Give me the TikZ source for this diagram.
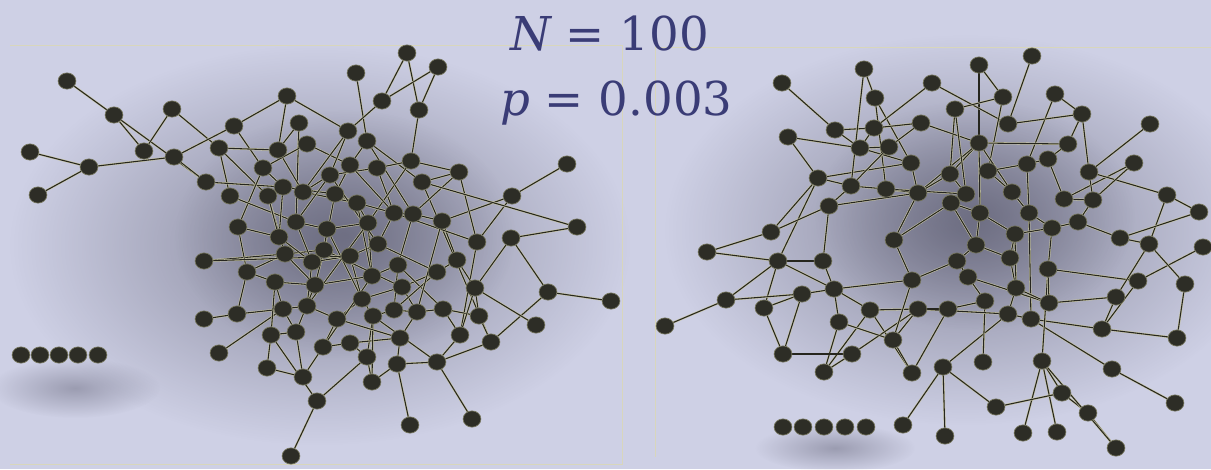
\documentclass[tikz,border=0pt]{standalone}
\usepackage{fontspec}
\newfontfamily\titlefont{DejaVu Serif}
\usetikzlibrary{shapes.geometric,fadings}
\definecolor{bgcol}{RGB}{206,208,229}
\definecolor{shcol}{RGB}{95,95,115}
\definecolor{nodecol}{RGB}{45,45,38}
\definecolor{nodeline}{RGB}{120,120,95}
\definecolor{edgedark}{RGB}{38,38,30}
\definecolor{edgelight}{RGB}{200,198,165}
\definecolor{framecol}{RGB}{216,214,188}
\definecolor{titlecol}{RGB}{58,60,118}
\pgfdeclarelayer{bg}
\pgfdeclarelayer{back}
\pgfsetlayers{back,bg,main}
\tikzfading[name=softblob, inner color=transparent!35, outer color=transparent!100]
\tikzset{
  vtx/.style={ellipse, minimum width=13.4pt, minimum height=12.2pt, inner sep=0pt, fill=nodecol, draw=nodeline, line width=0.5pt},
  edge/.style={draw=edgelight, double=edgedark, double distance=0.8pt, line width=0.4pt},
  frame/.style={draw=framecol, line width=0.75pt},
  title/.style={text=titlecol, anchor=base west, inner sep=0pt, font=\titlefont\fontsize{35}{40}\selectfont}
}
\begin{document}
\begin{tikzpicture}[x=0.75pt, y=-0.75pt]
\useasboundingbox (0,0) rectangle (1211,469);
\begin{pgfonlayer}{back}
\fill[bgcol] (0,0) rectangle (1211,469);
% soft shadows
\fill[shcol, path fading=softblob] (320,245) ellipse (310 and 200);
\fill[shcol, path fading=softblob] (345,235) ellipse (170 and 125);
\fill[shcol, path fading=softblob] (965,230) ellipse (300 and 195);
\fill[shcol, path fading=softblob] (975,215) ellipse (160 and 115);
\fill[shcol, opacity=0.7, path fading=softblob] (75,388) ellipse (85 and 30);
\fill[shcol, opacity=0.7, path fading=softblob] (835,448) ellipse (80 and 24);
% frames
\draw[frame] (10,45) -- (622,45) -- (622,464) -- (10,464);
\draw[frame] (1211,47) -- (655,47) -- (655,457);
\end{pgfonlayer}
% left graph nodes
\foreach \n/\x/\y in {A1/67/81, A2/114/115, A3/172/109, A4/30/152, A5/89/167, A6/38/195, A7/144/151, A8/174/157, A9/234/126, A10/219/148,
 A11/206/182, A12/287/96, A13/299/123, A14/278/150, A15/307/144, A16/263/168, A17/230/196, A18/268/196, A19/283/187, A20/303/192,
 A21/296/222, A22/238/227, A23/279/237, A24/285/254, A25/204/261, A26/407/53, A27/438/67, A28/356/73, A29/382/101, A30/419/110,
 A31/348/131, A32/367/141, A33/350/165, A34/377/168, A35/411/161, A36/330/175, A37/422/182, A38/459/172, A39/567/164, A40/512/196,
 A41/577/227, A42/511/238, A43/477/242, A44/335/194, A45/357/203, A46/394/213, A47/413/214, A48/442/221, A49/368/223, A50/327/229,
 A51/378/244, A52/324/250, A53/350/256, A54/457/260, A55/437/272, A56/398/265, A57/372/276, A58/312/262, A59/315/285, A60/402/287,
 A61/475/288, A62/548/292, A63/611/301, A64/362/299, A65/307/306, A66/337/319, A67/373/316, A68/394/310, A69/417/312, A70/443/309,
 A71/479/316, A72/536/325, A73/460/335, A74/491/342, A75/400/338, A76/323/347, A77/350/343, A78/367/357, A79/397/364, A80/437/362,
 A81/303/377, A82/372/382, A83/317/401, A84/410/425, A85/472/419, A86/247/272, A87/275/282, A88/237/314, A89/204/319, A90/283/309,
 A91/271/335, A92/296/332, A93/219/353, A94/267/368, A95/291/456,
 I1/21/355, I2/40/355, I3/59/355, I4/78/355, I5/98/355}
  \node[vtx] (\n) at (\x,\y) {};
% right graph nodes
\foreach \n/\x/\y in {B1/782/83, B2/864/69, B3/875/98, B4/932/83, B5/835/130, B6/874/128, B7/921/123, B8/788/137, B9/860/148, B10/889/147,
 B11/911/163, B12/818/178, B13/851/186, B14/886/189, B15/918/193, B16/829/206, B17/771/232, B18/894/240, B19/707/252, B20/778/261,
 B21/823/261, B22/1032/56, B23/979/65, B24/1003/97, B25/1055/94, B26/955/109, B27/1008/124, B28/1082/114, B29/1150/124, B30/979/143,
 B31/1068/144, B32/1027/164, B33/1048/159, B34/1134/163, B35/950/174, B36/988/171, B37/1089/172, B38/1167/195, B39/966/194, B40/1012/192,
 B41/1064/199, B42/1093/200, B43/1199/212, B44/951/203, B45/980/213, B46/1029/213, B47/1078/222, B48/1052/228, B49/1015/234, B50/1120/238,
 B51/1149/244, B52/1203/247, B53/976/245, B54/957/261, B55/1010/258, B56/726/300, B57/764/308, B58/802/294, B59/834/289, B60/870/310,
 B61/912/280, B62/918/309, B63/665/326, B64/839/322, B65/893/340, B66/783/354, B67/852/354, B68/824/372, B69/912/373, B70/943/367,
 B71/968/277, B72/1048/269, B73/1016/288, B74/985/301, B75/948/309, B76/1008/314, B77/1031/319, B78/1049/303, B79/1116/297, B80/1138/281,
 B81/1185/284, B82/1102/329, B83/1177/338, B84/983/362, B85/1042/361, B86/1112/369, B87/1062/393, B88/996/407, B89/1088/413, B90/1175/403,
 B91/945/436, B92/1023/433, B93/1057/432, B94/1116/448, B95/903/425,
 J1/783/427, J2/803/427, J3/824/427, J4/845/427, J5/866/427}
  \node[vtx] (\n) at (\x,\y) {};
\begin{pgfonlayer}{bg}
% left edges
\foreach \a/\b in {A1/A2, A2/A7, A2/A11, A3/A7, A3/A10, A4/A5, A5/A6, A5/A8, A8/A9, A8/A11,
 A9/A12, A9/A16, A10/A14, A10/A17, A10/A18, A11/A19, A12/A14, A12/A31, A13/A14, A13/A21,
 A14/A20, A15/A33, A15/A16, A16/A22, A16/A19, A17/A21, A18/A24, A18/A23, A19/A23, A19/A44,
 A20/A45, A20/A36, A21/A50, A22/A23, A24/A25, A24/A52, A23/A58, A26/A29, A26/A30, A27/A29,
 A27/A30, A28/A32, A29/A31, A30/A35, A31/A36, A31/A20, A32/A33, A32/A37, A33/A44, A34/A35,
 A34/A46, A34/A36, A35/A38, A35/A49, A36/A21, A37/A38, A37/A74, A38/A47, A39/A40, A40/A48,
 A40/A43, A41/A42, A42/A62, A42/A61, A43/A73, A44/A45, A44/A52, A45/A46, A45/A49, A46/A47,
 A46/A51, A47/A48, A47/A56, A48/A54, A49/A50, A49/A57, A50/A52, A51/A53, A51/A55, A52/A59,
 A53/A58, A53/A64, A54/A55, A54/A61, A55/A60, A56/A57, A56/A68, A57/A59, A58/A65, A59/A87,
 A60/A69, A60/A64, A61/A71, A62/A63, A62/A74, A61/A72, A64/A66, A64/A67, A65/A90, A65/A66,
 A66/A76, A67/A68, A67/A78, A68/A69, A69/A70, A70/A71, A70/A73, A71/A74, A73/A80, A74/A80,
 A75/A79, A75/A69, A76/A77, A76/A81, A77/A78, A77/A75, A78/A83, A79/A84, A79/A80, A80/A85,
 A82/A78, A83/A95, A83/A91, A86/A87, A86/A24, A86/A88, A87/A90, A88/A89, A88/A90, A90/A92,
 A91/A92, A91/A94, A92/A81, A93/A90, A94/A81, A82/A79, A82/A67, A73/A61, A36/A51, A45/A57,
 A50/A64, A33/A46, A32/A47, A21/A58, A24/A59, A52/A60, A56/A70, A55/A68, A49/A65, A57/A76,
 A66/A75, A67/A80, A22/A86, A25/A53, A43/A46, A48/A69, A38/A43, A59/A92, A87/A91, A41/A37}
  \draw[edge] (\a) -- (\b);
% right edges
\foreach \a/\b in {B1/B5, B5/B9, B2/B3, B3/B14, B3/B11, B4/B6, B6/B7, B8/B9, B8/B12, B9/B10,
 B9/B11, B12/B20, B12/B11, B13/B14, B14/B15, B16/B17, B16/B21, B16/B15, B18/B15, B19/B20,
 B7/B10, B20/B21, B20/B56, B56/B63, B20/B57, B20/B59, B21/B59, B56/B58, B57/B58, B58/B66,
 B58/B59, B59/B60, B59/B61, B59/B64, B60/B62, B60/B69, B60/B68, B64/B68, B66/B67, B67/B62,
 B65/B61, B95/B70, B23/B30, B22/B27, B4/B27, B24/B26, B24/B36, B25/B32, B27/B28, B28/B37,
 B28/B31, B29/B37, B30/B31, B30/B35, B30/B15, B30/B40, B30/B45, B34/B41, B37/B38, B38/B43,
 B38/B51, B43/B50, B50/B51, B50/B47, B26/B35, B7/B30, B72/B80, B80/B82, B80/B52, B51/B81,
 B81/B83, B82/B83, B77/B82, B78/B79, B79/B51, B77/B86, B86/B90, B85/B72, B85/B93, B85/B92,
 B85/B87, B87/B88, B87/B89, B89/B94, B85/B94, B70/B88, B70/B91, B70/B76, B84/B74, B62/B76,
 B46/B77, B71/B78, B10/B13, B11/B15, B13/B16, B12/B13, B6/B9, B35/B39, B36/B40, B32/B33,
 B33/B41, B40/B46, B41/B42, B42/B47, B44/B45, B44/B53, B45/B49, B46/B48, B48/B49, B49/B55,
 B53/B54, B53/B55, B55/B73, B54/B71, B71/B74, B73/B76, B73/B78, B74/B75, B75/B62, B65/B62,
 B65/B69, B61/B18, B18/B44, B39/B44, B36/B32, B32/B46, B47/B48, B42/B37, B31/B33, B34/B42,
 B48/B72, B72/B78, B79/B82, B54/B61, B14/B39, B15/B35, B17/B12, B64/B65, B67/B68, B19/B17,
 B5/B6, B2/B13, B26/B39, B45/B53, B57/B66, B69/B75, B28/B25, B23/B24, B76/B77, B49/B73}
  \draw[edge] (\a) -- (\b);
\end{pgfonlayer}
% title
\node[title] (tN) at (510,50) {{\itshape N} = 100};
\node[title] (tp) at (500,115) {{\itshape p} = 0.003};
\end{tikzpicture}
\end{document}
